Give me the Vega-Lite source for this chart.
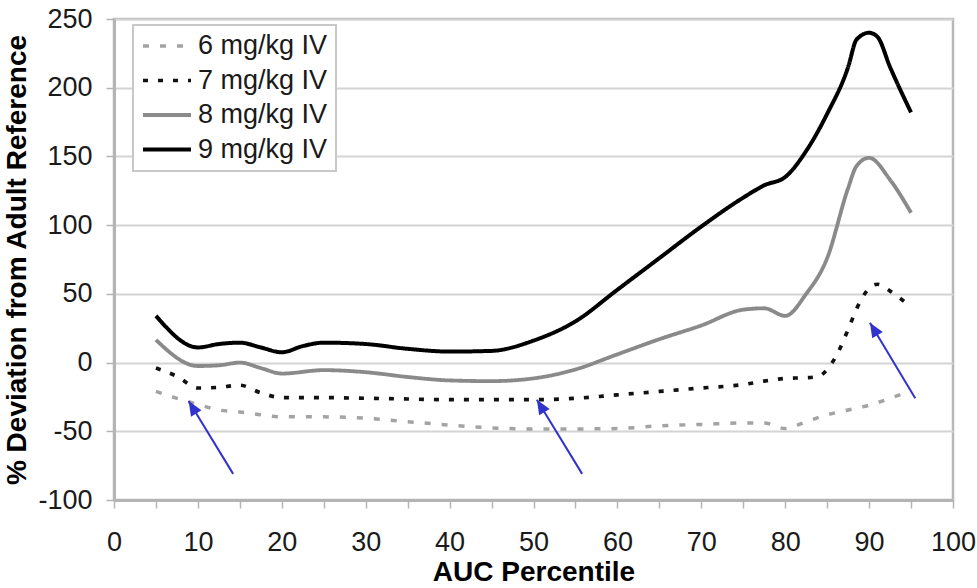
{
  "$schema": "https://vega.github.io/schema/vega-lite/v6.json",
  "width": 839,
  "height": 481,
  "autosize": {"type": "none"},
  "padding": {"left": 114, "top": 19, "right": 24, "bottom": 88},
  "background": "white",
  "config": {
    "font": "Liberation Sans",
    "view": {"stroke": "#b8b8b8", "strokeWidth": 2.5},
    "axis": {
      "domainColor": "#b4b4b4",
      "domainWidth": 3,
      "tickColor": "#b4b4b4",
      "tickWidth": 1.5,
      "tickSize": 8,
      "labelFont": "Liberation Sans",
      "labelFontSize": 27,
      "labelColor": "#1a1a1a",
      "titleFont": "Liberation Sans",
      "titleFontWeight": "bold",
      "titleFontSize": 28,
      "titleColor": "#000000"
    },
    "legend": {
      "orient": "none",
      "legendX": 19,
      "legendY": 6,
      "fillColor": "white",
      "strokeColor": "#c8c8c8",
      "strokeWidth": 2,
      "padding": 8,
      "symbolType": "stroke",
      "symbolSize": 2304,
      "clipHeight": 26,
      "rowPadding": 7.5,
      "labelOffset": 5,
      "labelFont": "Liberation Sans",
      "labelFontSize": 27,
      "labelColor": "#1a1a1a",
      "labelLimit": 300
    }
  },
  "datasets": {
    "curves": [
      {"pct": 5, "dev": -21, "dose": "6 mg/kg IV"},
      {"pct": 7.5, "dev": -26, "dose": "6 mg/kg IV"},
      {"pct": 10, "dev": -30.5, "dose": "6 mg/kg IV"},
      {"pct": 12.5, "dev": -34.5, "dose": "6 mg/kg IV"},
      {"pct": 15, "dev": -36, "dose": "6 mg/kg IV"},
      {"pct": 17.5, "dev": -38, "dose": "6 mg/kg IV"},
      {"pct": 20, "dev": -39.5, "dose": "6 mg/kg IV"},
      {"pct": 25, "dev": -39.5, "dose": "6 mg/kg IV"},
      {"pct": 30, "dev": -40.5, "dose": "6 mg/kg IV"},
      {"pct": 35, "dev": -43, "dose": "6 mg/kg IV"},
      {"pct": 40, "dev": -45.5, "dose": "6 mg/kg IV"},
      {"pct": 45, "dev": -47.5, "dose": "6 mg/kg IV"},
      {"pct": 50, "dev": -48.3, "dose": "6 mg/kg IV"},
      {"pct": 55, "dev": -48.3, "dose": "6 mg/kg IV"},
      {"pct": 60, "dev": -48, "dose": "6 mg/kg IV"},
      {"pct": 65, "dev": -46, "dose": "6 mg/kg IV"},
      {"pct": 70, "dev": -45, "dose": "6 mg/kg IV"},
      {"pct": 75, "dev": -44, "dose": "6 mg/kg IV"},
      {"pct": 77.5, "dev": -44, "dose": "6 mg/kg IV"},
      {"pct": 80, "dev": -48, "dose": "6 mg/kg IV"},
      {"pct": 82.5, "dev": -43, "dose": "6 mg/kg IV"},
      {"pct": 85, "dev": -38, "dose": "6 mg/kg IV"},
      {"pct": 87.5, "dev": -34.5, "dose": "6 mg/kg IV"},
      {"pct": 90, "dev": -31, "dose": "6 mg/kg IV"},
      {"pct": 92.5, "dev": -26, "dose": "6 mg/kg IV"},
      {"pct": 95, "dev": -20.5, "dose": "6 mg/kg IV"},

      {"pct": 5, "dev": -4, "dose": "7 mg/kg IV"},
      {"pct": 7.5, "dev": -10, "dose": "7 mg/kg IV"},
      {"pct": 10, "dev": -18.5, "dose": "7 mg/kg IV"},
      {"pct": 12.5, "dev": -18, "dose": "7 mg/kg IV"},
      {"pct": 15, "dev": -16.5, "dose": "7 mg/kg IV"},
      {"pct": 17.5, "dev": -22, "dose": "7 mg/kg IV"},
      {"pct": 20, "dev": -25.5, "dose": "7 mg/kg IV"},
      {"pct": 25, "dev": -25.5, "dose": "7 mg/kg IV"},
      {"pct": 30, "dev": -26, "dose": "7 mg/kg IV"},
      {"pct": 35, "dev": -26.5, "dose": "7 mg/kg IV"},
      {"pct": 40, "dev": -27, "dose": "7 mg/kg IV"},
      {"pct": 45, "dev": -27, "dose": "7 mg/kg IV"},
      {"pct": 50, "dev": -27, "dose": "7 mg/kg IV"},
      {"pct": 55, "dev": -26, "dose": "7 mg/kg IV"},
      {"pct": 60, "dev": -23.5, "dose": "7 mg/kg IV"},
      {"pct": 65, "dev": -21, "dose": "7 mg/kg IV"},
      {"pct": 70, "dev": -18.5, "dose": "7 mg/kg IV"},
      {"pct": 75, "dev": -16, "dose": "7 mg/kg IV"},
      {"pct": 77.5, "dev": -13.5, "dose": "7 mg/kg IV"},
      {"pct": 80, "dev": -11.5, "dose": "7 mg/kg IV"},
      {"pct": 82.5, "dev": -11, "dose": "7 mg/kg IV"},
      {"pct": 84, "dev": -10, "dose": "7 mg/kg IV"},
      {"pct": 85, "dev": -5, "dose": "7 mg/kg IV"},
      {"pct": 86, "dev": 4, "dose": "7 mg/kg IV"},
      {"pct": 87.5, "dev": 24, "dose": "7 mg/kg IV"},
      {"pct": 88.5, "dev": 39, "dose": "7 mg/kg IV"},
      {"pct": 90, "dev": 54, "dose": "7 mg/kg IV"},
      {"pct": 91, "dev": 57, "dose": "7 mg/kg IV"},
      {"pct": 92.5, "dev": 52, "dose": "7 mg/kg IV"},
      {"pct": 94.5, "dev": 43, "dose": "7 mg/kg IV"},

      {"pct": 5, "dev": 16.5, "dose": "8 mg/kg IV"},
      {"pct": 10, "dev": -2.5, "dose": "8 mg/kg IV"},
      {"pct": 12.5, "dev": -2, "dose": "8 mg/kg IV"},
      {"pct": 15, "dev": 0, "dose": "8 mg/kg IV"},
      {"pct": 17.5, "dev": -4, "dose": "8 mg/kg IV"},
      {"pct": 20, "dev": -8, "dose": "8 mg/kg IV"},
      {"pct": 25, "dev": -5.5, "dose": "8 mg/kg IV"},
      {"pct": 30, "dev": -7, "dose": "8 mg/kg IV"},
      {"pct": 35, "dev": -10.5, "dose": "8 mg/kg IV"},
      {"pct": 40, "dev": -13, "dose": "8 mg/kg IV"},
      {"pct": 45, "dev": -13.5, "dose": "8 mg/kg IV"},
      {"pct": 50, "dev": -11.5, "dose": "8 mg/kg IV"},
      {"pct": 55, "dev": -5, "dose": "8 mg/kg IV"},
      {"pct": 60, "dev": 6, "dose": "8 mg/kg IV"},
      {"pct": 65, "dev": 17, "dose": "8 mg/kg IV"},
      {"pct": 70, "dev": 27, "dose": "8 mg/kg IV"},
      {"pct": 75, "dev": 38.5, "dose": "8 mg/kg IV"},
      {"pct": 77.5, "dev": 39.5, "dose": "8 mg/kg IV"},
      {"pct": 80, "dev": 34, "dose": "8 mg/kg IV"},
      {"pct": 82.5, "dev": 50, "dose": "8 mg/kg IV"},
      {"pct": 85, "dev": 76, "dose": "8 mg/kg IV"},
      {"pct": 87.5, "dev": 127, "dose": "8 mg/kg IV"},
      {"pct": 88.5, "dev": 143, "dose": "8 mg/kg IV"},
      {"pct": 90, "dev": 149, "dose": "8 mg/kg IV"},
      {"pct": 92.5, "dev": 133, "dose": "8 mg/kg IV"},
      {"pct": 95, "dev": 109, "dose": "8 mg/kg IV"},

      {"pct": 5, "dev": 34, "dose": "9 mg/kg IV"},
      {"pct": 10, "dev": 11, "dose": "9 mg/kg IV"},
      {"pct": 12.5, "dev": 13.5, "dose": "9 mg/kg IV"},
      {"pct": 15, "dev": 14.5, "dose": "9 mg/kg IV"},
      {"pct": 17.5, "dev": 11, "dose": "9 mg/kg IV"},
      {"pct": 20, "dev": 7.5, "dose": "9 mg/kg IV"},
      {"pct": 22.5, "dev": 12, "dose": "9 mg/kg IV"},
      {"pct": 25, "dev": 14.5, "dose": "9 mg/kg IV"},
      {"pct": 30, "dev": 13.5, "dose": "9 mg/kg IV"},
      {"pct": 35, "dev": 10, "dose": "9 mg/kg IV"},
      {"pct": 40, "dev": 8, "dose": "9 mg/kg IV"},
      {"pct": 45, "dev": 8.5, "dose": "9 mg/kg IV"},
      {"pct": 50, "dev": 16, "dose": "9 mg/kg IV"},
      {"pct": 55, "dev": 30, "dose": "9 mg/kg IV"},
      {"pct": 60, "dev": 53, "dose": "9 mg/kg IV"},
      {"pct": 65, "dev": 76, "dose": "9 mg/kg IV"},
      {"pct": 70, "dev": 99, "dose": "9 mg/kg IV"},
      {"pct": 75, "dev": 120, "dose": "9 mg/kg IV"},
      {"pct": 77.5, "dev": 129, "dose": "9 mg/kg IV"},
      {"pct": 80, "dev": 135, "dose": "9 mg/kg IV"},
      {"pct": 82.5, "dev": 154, "dose": "9 mg/kg IV"},
      {"pct": 85, "dev": 181, "dose": "9 mg/kg IV"},
      {"pct": 87.5, "dev": 215, "dose": "9 mg/kg IV"},
      {"pct": 88.5, "dev": 235, "dose": "9 mg/kg IV"},
      {"pct": 90, "dev": 240, "dose": "9 mg/kg IV"},
      {"pct": 91, "dev": 237, "dose": "9 mg/kg IV"},
      {"pct": 92.5, "dev": 215, "dose": "9 mg/kg IV"},
      {"pct": 95, "dev": 182, "dose": "9 mg/kg IV"}
    ],
    "arrows": [
      {"tailX": 14.2, "tailY": -81, "tipX": 8.9, "tipY": -28},
      {"tailX": 55.8, "tailY": -81, "tipX": 50.4, "tipY": -27},
      {"tailX": 95.5, "tailY": -26, "tipX": 90.1, "tipY": 29}
    ]
  },
  "layer": [
    {
      "data": {"name": "curves"},
      "mark": {"type": "line", "interpolate": "monotone", "strokeCap": "butt"},
      "encoding": {
        "x": {
          "field": "pct",
          "type": "quantitative",
          "title": "AUC Percentile",
          "scale": {"domain": [0, 100], "nice": false, "zero": false},
          "axis": {
            "values": [0, 5, 10, 15, 20, 25, 30, 35, 40, 45, 50, 55, 60, 65, 70, 75, 80, 85, 90, 95, 100],
            "labelExpr": "datum.value % 10 === 0 ? datum.label : ''",
            "grid": false,
            "labelPadding": 21,
            "titlePadding": 3,
            "labelFlush": false
          }
        },
        "y": {
          "field": "dev",
          "type": "quantitative",
          "title": "% Deviation from Adult Reference",
          "scale": {"domain": [-100, 250], "nice": false, "zero": false},
          "axis": {
            "values": [-100, -75, -50, -25, 0, 25, 50, 75, 100, 125, 150, 175, 200, 225, 250],
            "labelExpr": "datum.value % 50 === 0 ? replace(datum.label, '\u2212', '-') : ''",
            "grid": true,
            "gridWidth": 2,
            "gridColor": {"condition": {"test": "datum.value % 50 === 0", "value": "#d4d4d4"}, "value": "transparent"},
            "labelPadding": 14,
            "titlePadding": 6,
            "labelFlush": false
          }
        },
        "color": {
          "field": "dose",
          "type": "nominal",
          "title": null,
          "scale": {
            "domain": ["6 mg/kg IV", "7 mg/kg IV", "8 mg/kg IV", "9 mg/kg IV"],
            "range": ["#a3a3a3", "#111111", "#8a8a8a", "#000000"]
          }
        },
        "strokeDash": {
          "field": "dose",
          "type": "nominal",
          "title": null,
          "scale": {
            "domain": ["6 mg/kg IV", "7 mg/kg IV", "8 mg/kg IV", "9 mg/kg IV"],
            "range": [[6, 11], [5, 10], [1, 0], [1, 0]]
          }
        },
        "strokeWidth": {
          "field": "dose",
          "type": "nominal",
          "title": null,
          "scale": {
            "domain": ["6 mg/kg IV", "7 mg/kg IV", "8 mg/kg IV", "9 mg/kg IV"],
            "range": [3.5, 4, 2.6, 3.2]
          }
        }
      }
    },
    {
      "data": {"name": "arrows"},
      "mark": {"type": "rule", "color": "#3232cc", "strokeWidth": 2},
      "encoding": {
        "x": {"field": "tailX", "type": "quantitative"},
        "y": {"field": "tailY", "type": "quantitative"},
        "x2": {"field": "tipX"},
        "y2": {"field": "tipY"}
      }
    },
    {
      "data": {"name": "arrows"},
      "mark": {
        "type": "point",
        "shape": "M0,0L-0.55,1.3L0.55,1.3Z",
        "filled": true,
        "color": "#3232cc",
        "opacity": 1,
        "size": 500,
        "angle": 328.6
      },
      "encoding": {
        "x": {"field": "tipX", "type": "quantitative"},
        "y": {"field": "tipY", "type": "quantitative"}
      }
    }
  ]
}
